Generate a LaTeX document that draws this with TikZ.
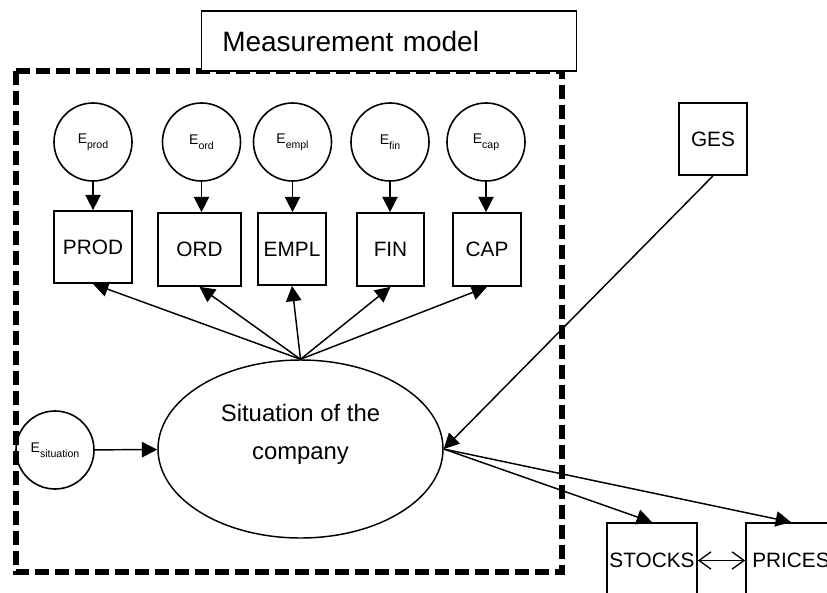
\documentclass[tikz,border=0pt]{standalone}
\usepackage{fontspec}
\setmainfont{Liberation Sans}
\usetikzlibrary{arrows.meta,shapes.geometric}
\newcommand{\err}[1]{{\fontsize{10.5}{12}\selectfont E}{\fontsize{7.9}{9}\selectfont\raisebox{-4pt}{#1}}}

\begin{document}
\begin{tikzpicture}[x=0.75pt,y=-0.75pt,
  errnode/.style={draw,circle,line width=1.2pt,minimum size=58.5pt,inner sep=0pt},
  varbox/.style={draw,rectangle,line width=1.3pt,inner sep=0pt,font=\fontsize{15.6}{18}\selectfont},
  fleche/.style={line width=1.1pt,-{Triangle[length=11.5pt,width=11.5pt]}}]
\useasboundingbox (0,0) rectangle (827,592);
\clip (0,0) rectangle (827,592);
\draw [line width=3.9pt,dash pattern=on 10.5pt off 4.5pt] (16,71) rectangle (562,572);
\node[draw,fill=white,line width=0.9pt,anchor=west,inner xsep=15.5pt,inner ysep=0pt,text width=250pt,align=left,minimum height=45pt,font=\fontsize{21}{24}\selectfont] (titre) at (201,41) {Measurement model};

\foreach \cx/\bx/\by/\bw/\bh/\nm/\sub in {93/93/247/58.5/54/PROD/prod,201.5/199.5/249.5/62.25/54.75/ORD/ord,292.5/292/249/51/54/EMPL/empl,390/390.5/249.5/50.25/54.75/FIN/fin,486/487/249.5/51/54.75/CAP/cap} {
  \node[errnode] (e\sub) at (\cx,142) {\err{\sub}};
  \node[varbox,minimum width=\bw pt,minimum height=\bh pt] (\sub) at (\bx,\by) {\nm};
  \draw[fleche] (e\sub) -- (e\sub |- \sub.north);
}

\node[ellipse,draw,line width=1.1pt,minimum width=213.75pt,minimum height=133.5pt,inner sep=0pt] (sit) at (300.5,449) {};
\node[font=\fontsize{17.9}{28.5}\selectfont,align=center] (sittxt) at (300.5,434) {Situation of the\\company};
\foreach \sub in {prod,ord,empl,fin,cap} {\draw[fleche] (sit.north) -- (\sub.south);}

\node[errnode] (esit) at (55,450) {\err{situation}};
\draw[fleche] (esit) -- (sit);

\node[varbox,minimum width=51pt,minimum height=54pt] (ges) at (713,139) {GES};
\draw[fleche] (ges.south) -- (sit.east);

\node[varbox,minimum width=67.5pt,minimum height=56.25pt] (stocks) at (652,560.5) {STOCKS};
\node[varbox,minimum width=67.5pt,minimum height=56.25pt] (prices) at (791,560.5) {PRICES};
\draw[fleche] (sit.east) -- (stocks.north);
\draw[fleche] (sit.east) -- (prices.north);
\draw[line width=1pt,{Straight Barb[length=9pt,width=13pt]}-{Straight Barb[length=9pt,width=13pt]}] (stocks) -- (prices);
\end{tikzpicture}
\end{document}
